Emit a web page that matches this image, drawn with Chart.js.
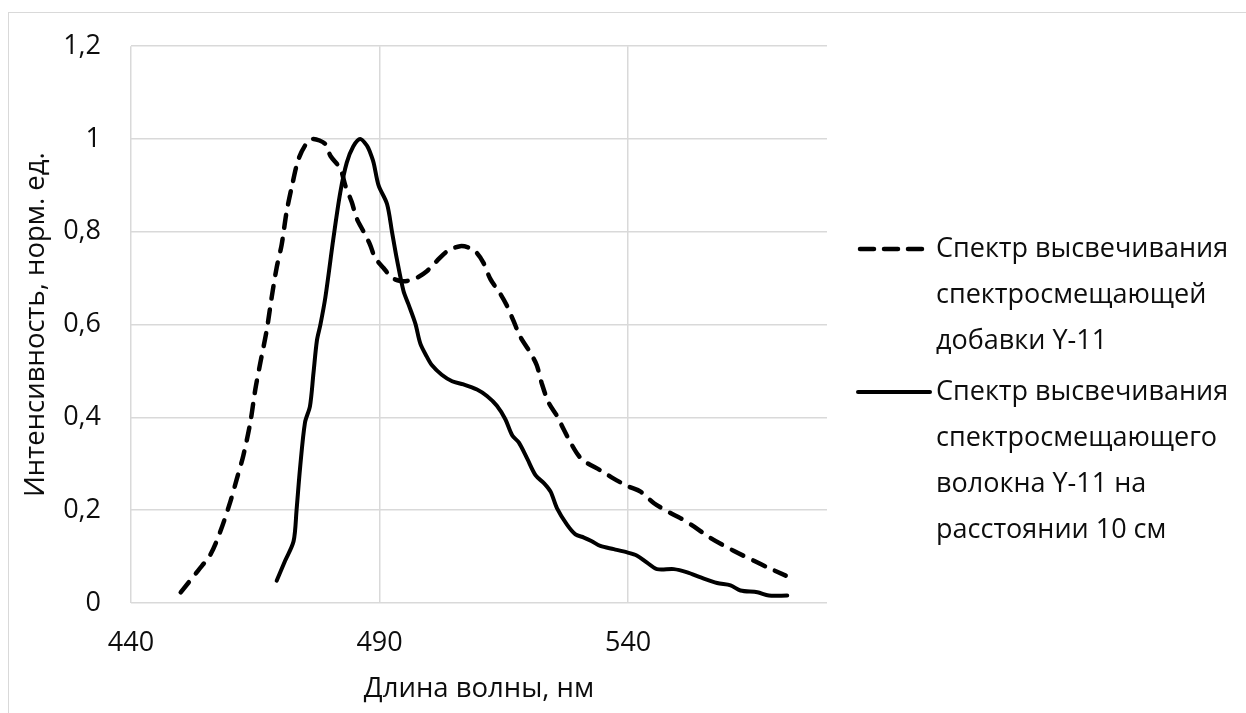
<!DOCTYPE html>
<html lang="ru">
<head>
<meta charset="utf-8">
<title>Спектры высвечивания Y-11</title>
<script src="https://cdn.jsdelivr.net/npm/chart.js@4.4.1/dist/chart.umd.min.js"></script>
<style>
    html, body { margin: 0; padding: 0; background: #fff; }
    #spectraWrap { position: relative; width: 1246px; height: 713px; overflow: hidden; }
    #spectraFrame {
        position: absolute; left: 8px; top: 12px; right: -10px; bottom: -10px;
        border-top: 1px solid #d9d9d9; border-left: 1px solid #d9d9d9;
    }
    #spectraChart { position: absolute; left: 0; top: 0; }
</style>
</head>
<body>
<div id="spectraWrap">
    <div id="spectraFrame"></div>
    <canvas id="spectraChart" width="1246" height="713"></canvas>
</div>
<script>
(function () {
    // emission spectrum of the Y-11 wavelength-shifting dopant
    var dopantNm = [450, 453.5, 456, 458, 460, 461.3, 462.6, 464, 465, 466, 467.3, 468.3, 469.3, 470.3, 471.3,
        472.4, 473.7, 475.4, 476.7, 479, 480.1, 482.1, 483.1, 484.4, 485.4, 486.8, 488.1, 489.1, 490.8, 492.5,
        494.2, 495.5, 497.5, 499.5, 501.5, 503.6, 506.2, 508.2, 509.6, 510.9, 512.3, 514.3, 515.6, 516.9, 518.3,
        520, 521.6, 522.6, 524, 525.7, 527, 528.4, 530, 531.4, 534.4, 537.1, 540.1, 542.5, 545.2, 548.5, 550.5,
        553.2, 556.6, 561.3, 565.3, 568, 571.7];
    var dopantVal = [0.023, 0.07, 0.105, 0.155, 0.219, 0.268, 0.318, 0.389, 0.46, 0.517, 0.588, 0.659, 0.723, 0.772, 0.843,
        0.9, 0.957, 0.992, 1.0, 0.99, 0.964, 0.936, 0.9, 0.864, 0.829, 0.8, 0.772, 0.744, 0.722, 0.701,
        0.694, 0.694, 0.701, 0.715, 0.737, 0.758, 0.769, 0.765, 0.754, 0.733, 0.698, 0.666, 0.641, 0.609, 0.574,
        0.545, 0.513, 0.474, 0.432, 0.403, 0.375, 0.346, 0.318, 0.304, 0.286, 0.268, 0.251, 0.24, 0.215, 0.194, 0.183,
        0.165, 0.14, 0.112, 0.091, 0.077, 0.059];

    // emission spectrum of the Y-11 fibre, 10 cm from the source
    var fiberNm = [469.3, 471, 472.7, 473.3, 474, 475, 476, 476.7, 477.4, 478.1, 479.1, 480.7, 482.1, 483.4, 484.7,
        486.1, 487.5, 488.1, 488.8, 489.8, 491.5, 492.5, 493.5, 494.8, 495.8, 497.2, 498.2, 499.5, 500.5, 502.5,
        504.6, 506.9, 509.6, 511.6, 513.6, 515.3, 516.7, 518, 519.7, 521.4, 523.1, 524.4, 525.7, 527.7, 529.4,
        531.1, 532.7, 534.4, 537.1, 539.8, 541.8, 543.8, 545.8, 549.2, 551.9, 554.6, 557.9, 560.6, 562.6, 566,
        568.3, 572];
    var fiberVal = [0.048, 0.091, 0.133, 0.2, 0.29, 0.389, 0.424, 0.495, 0.566, 0.6, 0.659, 0.785, 0.885, 0.949, 0.984,
        1.0, 0.985, 0.971, 0.949, 0.9, 0.86, 0.8, 0.74, 0.673, 0.644, 0.602, 0.559, 0.531, 0.513, 0.492,
        0.478, 0.471, 0.46, 0.446, 0.425, 0.396, 0.361, 0.346, 0.311, 0.275, 0.258, 0.24, 0.204, 0.169, 0.148,
        0.141, 0.133, 0.123, 0.116, 0.109, 0.102, 0.087, 0.073, 0.073, 0.066, 0.055, 0.043, 0.038, 0.027, 0.023,
        0.016, 0.016];

    var seriesLabels = [
        'Спектр высвечивания\nспектросмещающей\nдобавки Y-11',
        'Спектр высвечивания\nспектросмещающего\nволокна Y-11 на\nрасстоянии 10 см'
    ];
    var xTicks = [440, 490, 540];
    var xMin = 440, xMax = 580;
    var yMin = 0, yMax = 1.2, yStep = 0.2;

    var FONT = "'Open Sans', 'DejaVu Sans', sans-serif";
    var TEXT = '#0d0d0d';
    var GRID = '#d9d9d9';

    function points(xs, ys) {
        return xs.map(function (x, i) { return { x: x, y: ys[i] }; });
    }

    // legend on the right with wrapped labels, drawn after the plot
    var sideLegend = {
        id: 'sideLegend',
        afterDraw: function (chart) {
            var ctx = chart.ctx;
            var x0 = 858, x1 = 930, textX = 936;
            var y = 249, lineH = 46, entryGap = 5;
            ctx.save();
            ctx.font = '27px ' + FONT;
            ctx.fillStyle = TEXT;
            ctx.textBaseline = 'middle';
            ctx.textAlign = 'left';
            chart.data.datasets.forEach(function (ds) {
                var dashed = ds.borderDash && ds.borderDash.length;
                ctx.beginPath();
                ctx.lineWidth = ds.borderWidth;
                ctx.strokeStyle = ds.borderColor;
                ctx.lineCap = 'round';
                ctx.setLineDash(dashed ? [14, 10] : []);
                ctx.moveTo(x0 + (dashed ? 2 : 0), y);
                ctx.lineTo(x1, y);
                ctx.stroke();
                ctx.setLineDash([]);
                ds.label.split('\n').forEach(function (line) {
                    ctx.fillText(line, textX, y);
                    y += lineH;
                });
                y += entryGap;
            });
            ctx.restore();
        }
    };

    new Chart(document.getElementById('spectraChart'), {
        type: 'line',
        data: {
            datasets: [
                {
                    label: seriesLabels[0],
                    data: points(dopantNm, dopantVal),
                    borderColor: '#000',
                    borderWidth: 4.5,
                    borderDash: [13, 11],
                    borderCapStyle: 'round',
                    borderJoinStyle: 'round',
                    pointRadius: 0,
                    tension: 0.3,
                    fill: false
                },
                {
                    label: seriesLabels[1],
                    data: points(fiberNm, fiberVal),
                    borderColor: '#000',
                    borderWidth: 4,
                    borderCapStyle: 'round',
                    borderJoinStyle: 'round',
                    pointRadius: 0,
                    tension: 0.3,
                    fill: false
                }
            ]
        },
        options: {
            responsive: false,
            devicePixelRatio: 1,
            animation: false,
            layout: { padding: { top: 39, right: 419, bottom: 0, left: 0 } },
            plugins: {
                legend: { display: false },
                tooltip: { enabled: false }
            },
            scales: {
                x: {
                    type: 'linear',
                    min: xMin,
                    max: xMax,
                    afterBuildTicks: function (scale) {
                        scale.ticks = xTicks.map(function (v) { return { value: v }; });
                    },
                    afterFit: function (scale) { scale.height = 110; },
                    grid: { color: GRID, lineWidth: 1.5, drawTicks: false },
                    border: { display: false },
                    ticks: {
                        padding: 24,
                        color: TEXT,
                        font: { family: FONT, size: 27 }
                    },
                    title: {
                        display: true,
                        text: 'Длина волны, нм',
                        color: TEXT,
                        font: { family: FONT, size: 27.5 },
                        padding: { top: 0, bottom: 7 }
                    }
                },
                y: {
                    min: yMin,
                    max: yMax,
                    afterFit: function (scale) { scale.width = 131; },
                    grid: { color: GRID, lineWidth: 1.5, drawTicks: false },
                    border: { display: false },
                    ticks: {
                        stepSize: yStep,
                        padding: 30,
                        color: TEXT,
                        font: { family: FONT, size: 27 },
                        callback: function (v) {
                            return String(Math.round(v * 10) / 10).replace('.', ',');
                        }
                    },
                    title: {
                        display: true,
                        text: 'Интенсивность, норм. ед.',
                        color: TEXT,
                        font: { family: FONT, size: 27.5 },
                        padding: { top: 20, bottom: 0 }
                    }
                }
            }
        },
        plugins: [sideLegend]
    });
})();
</script>
</body>
</html>
